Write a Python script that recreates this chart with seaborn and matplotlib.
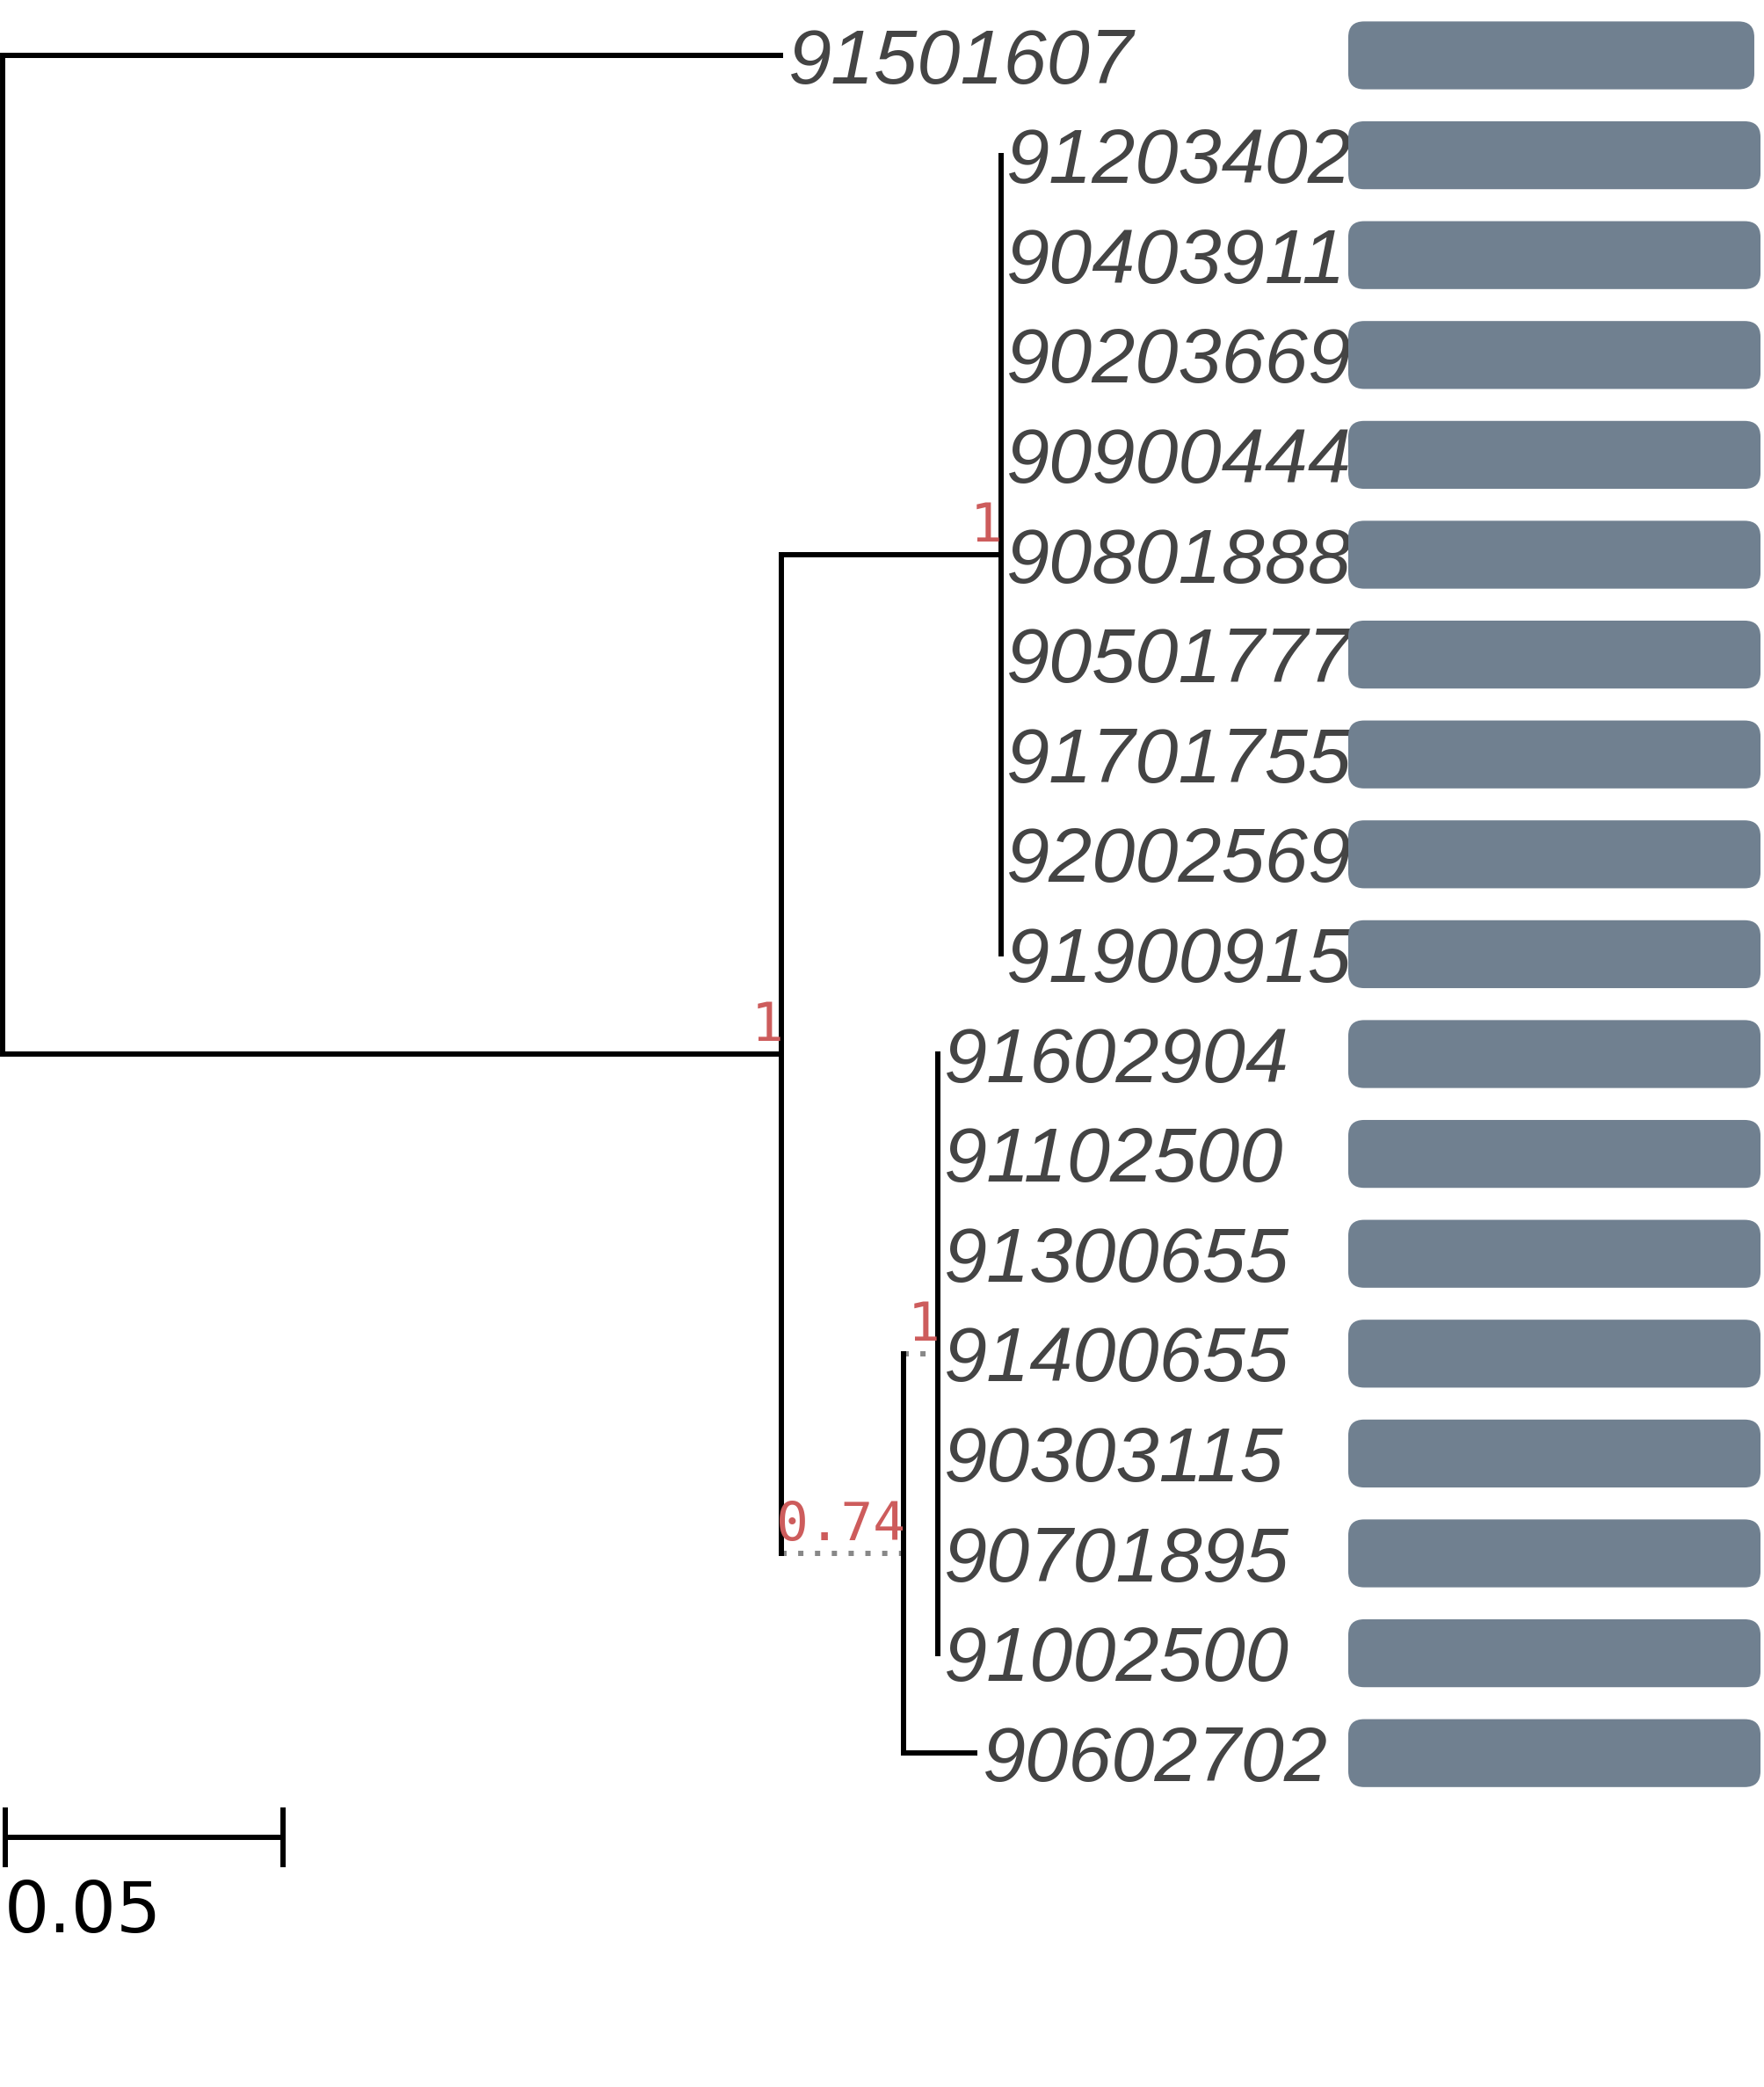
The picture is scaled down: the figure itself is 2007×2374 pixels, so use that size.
import matplotlib
matplotlib.use('Agg')
import matplotlib.pyplot as plt
from matplotlib.patches import FancyBboxPatch
import numpy as np
import seaborn as sns

# --- Tree data (top to bottom) ---
tip_labels = ['91501607', '91203402', '90403911', '90203669', '90900444',
              '90801888', '90501777', '91701755', '92002569', '91900915',
              '91602904', '91102500', '91300655', '91400655', '90303115',
              '90701895', '91002500', '90602702']
tip_parent = ['root'] + ['cladeA'] * 9 + ['cladeB1'] * 7 + ['cladeB']
tip_depth = [0.1405] + [0.1797] * 9 + [0.1684] * 7 + [0.1755]

node_names = ['root', 'main', 'cladeA', 'cladeB', 'cladeB1']
node_parent = [None, 'root', 'main', 'main', 'cladeB']
node_depth = [0.0, 0.1402, 0.1797, 0.1622, 0.1684]
node_support = ['', '1', '1', '0.74', '1']
dotted_branches = ['cladeB', 'cladeB1']

bar_values = [0.985] + [1.0] * 17
scale_length = 0.05

# --- Layout helpers ---
sns.set_style('white')
W, H = 2007, 2374
px_per_unit = 6320
row_px = 113.6
row0_px = 63
xlim = (-3 / px_per_unit, (W - 3) / px_per_unit)
ylim = ((H - row0_px) / row_px, -row0_px / row_px)

depth = dict(zip(node_names, node_depth))
parent = dict(zip(node_names, node_parent))
children = {n: [] for n in node_names}
for n, p in zip(node_names, node_parent):
    if p is not None:
        children[p].append(('node', n))
for i, p in enumerate(tip_parent):
    children[p].append(('tip', i))

node_y = {}
def get_y(kind, key):
    if kind == 'tip':
        return float(key)
    if key not in node_y:
        node_y[key] = np.mean([get_y(k, c) for k, c in children[key]])
    return node_y[key]

get_y('node', 'root')

fig = plt.figure(figsize=(W / 100, H / 100), dpi=100)
ax = fig.add_axes([0, 0, 1, 1])
ax.set_xlim(*xlim)
ax.set_ylim(*ylim)
ax.axis('off')

lw = 4.3
# horizontal branches
for n in node_names:
    p = parent[n]
    if p is None:
        continue
    if n in dotted_branches:
        ax.plot([depth[p], depth[n]], [node_y[n], node_y[n]], color='#888888', lw=lw,
                linestyle=(0, (1, 2.2)), dash_capstyle='butt')
    else:
        ax.plot([depth[p], depth[n]], [node_y[n], node_y[n]], color='black', lw=lw,
                solid_capstyle='butt')
for i, p in enumerate(tip_parent):
    if tip_depth[i] > depth[p]:
        ax.plot([depth[p], tip_depth[i]], [i, i], color='black', lw=lw, solid_capstyle='butt')

# vertical connectors
for n in node_names:
    ys = [get_y(k, c) for k, c in children[n]]
    ax.plot([depth[n], depth[n]], [min(ys), max(ys)], color='black', lw=lw,
            solid_capstyle='projecting')

# tip labels
for i, name in enumerate(tip_labels):
    ax.annotate(name, (tip_depth[i], i), xytext=(4.5, -22.7), textcoords='offset points',
                ha='left', va='baseline', fontsize=63.5, style='italic', color='#444444',
                family='Liberation Sans')

# support values
for n, s in zip(node_names, node_support):
    if s:
        ax.annotate(s, (depth[n], node_y[n]), xytext=(1.5, 10.5), textcoords='offset points',
                    ha='right', va='baseline', fontsize=44, color='#cd5c5c',
                    family='DejaVu Sans Mono')

# scale bar
sb_x0 = 0.0005
sb_y = (2090 - row0_px) / row_px
tick_half = 34 / row_px
ax.plot([sb_x0, sb_x0 + scale_length], [sb_y, sb_y], color='black', lw=lw, solid_capstyle='butt')
for xx in [sb_x0, sb_x0 + scale_length]:
    ax.plot([xx, xx], [sb_y - tick_half, sb_y + tick_half], color='black', lw=lw,
            solid_capstyle='butt')
ax.text(0.0003, (2198 - row0_px) / row_px, f'{scale_length:g}', ha='left', va='baseline',
        fontsize=58, color='black', family='DejaVu Sans')

# --- Bar track ---
bax = fig.add_axes([1534 / W, 0, 469 / W, 1])
sns.barplot(x=bar_values, y=tip_labels, order=tip_labels, orient='h', width=0.68,
            color='#708090', saturation=1, ax=bax)
bax.set_xlim(0, 1)
bax.set_ylim(*ylim)
bax.axis('off')
bax.patch.set_visible(False)

for p in list(bax.patches):
    x0, y0, w, h = p.get_x(), p.get_y(), p.get_width(), p.get_height()
    p.remove()
    bax.add_patch(FancyBboxPatch((x0, y0), w, h, boxstyle='round,pad=0,rounding_size=0.0384',
                                 mutation_aspect=4.1, facecolor='#708090', edgecolor='none'))

fig.savefig('out.png', dpi=100)
